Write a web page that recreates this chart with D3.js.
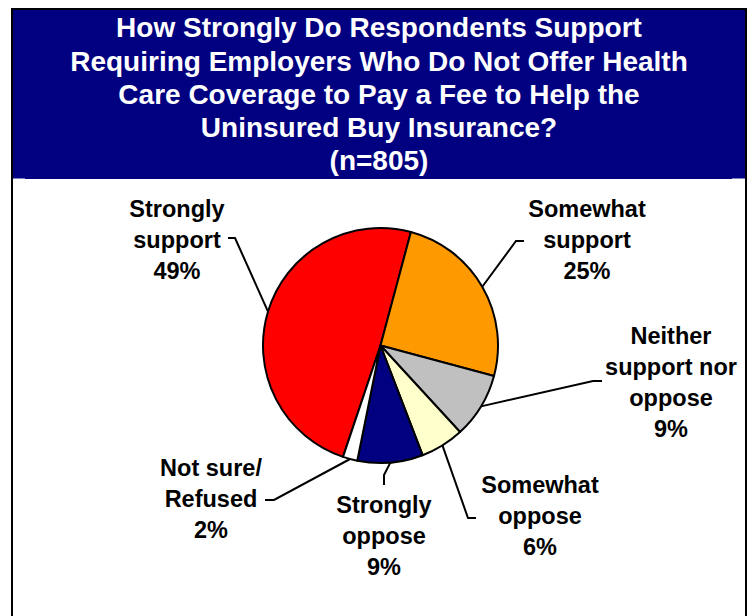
<!DOCTYPE html>
<html><head><meta charset="utf-8">
<script src="https://cdn.jsdelivr.net/npm/d3@7"></script>
<style>
html,body{margin:0;padding:0;background:#fff;}
svg{display:block;}
text{font-family:"Liberation Sans",Arial,sans-serif;font-weight:bold;}
</style></head>
<body>
<svg id="c" width="754" height="616"></svg>
<script>
const titleLines = ["How Strongly Do Respondents Support","Requiring Employers Who Do Not Offer Health","Care Coverage to Pay a Fee to Help the","Uninsured Buy Insurance?","(n=805)"];
const categories = ["Strongly support","Somewhat support","Neither support nor oppose","Somewhat oppose","Strongly oppose","Not sure/ Refused"];
const values = [49,25,9,6,9,2];
const labelLines = [["Strongly","support","49%"],["Somewhat","support","25%"],["Neither","support nor","oppose","9%"],["Somewhat","oppose","6%"],["Strongly","oppose","9%"],["Not sure/","Refused","2%"]];
const colors = ["#FF0000","#FF9900","#C0C0C0","#FFFFCC","#000080","#FFFFFF"];

// layout (label anchor centre x, first baseline y, leader elbow points)
const layout = [
  {x:177, y:217, pts:[[235,238],[228,238]]},
  {x:587, y:217, pts:[[516,241],[524,241]]},
  {x:671, y:344, pts:[[593,381],[602,381]]},
  {x:540, y:493, pts:[[468,518],[476,518]]},
  {x:384, y:513, pts:[[384,475],[384,485]]},
  {x:211, y:476, pts:[[274,500],[265,500]]}
];

const svg = d3.select("#c");
// frame + title band
svg.append("rect").attr("x",13).attr("y",10).attr("width",732).attr("height",169).attr("fill","#000080");
svg.append("line").attr("x1",13).attr("x2",25).attr("y1",178.5).attr("y2",178.5).attr("stroke","#8080c0").attr("stroke-width",1);
svg.append("line").attr("x1",732).attr("x2",745).attr("y1",178.5).attr("y2",178.5).attr("stroke","#8080c0").attr("stroke-width",1);
svg.append("rect").attr("x",12).attr("y",9).attr("width",734).attr("height",640).attr("fill","none").attr("stroke","#000").attr("stroke-width",2);

const tBase = [37,71,104,137,170];
svg.append("g").selectAll("text").data(titleLines).join("text")
  .attr("x",379).attr("y",(d,i)=>tBase[i]).attr("text-anchor","middle")
  .attr("fill","#fff").attr("font-size",28).text(d=>d);

const cx = 380.5, cy = 345.5, R = 117.5;
const startDeg = 198.6;
const pie = d3.pie().sort(null).value(d=>d)
  .startAngle(startDeg*Math.PI/180).endAngle(startDeg*Math.PI/180 + 2*Math.PI);
const arcs = pie(values);
const arc = d3.arc().innerRadius(0).outerRadius(R);
const edge = d3.arc().innerRadius(R).outerRadius(R);
const g = svg.append("g").attr("transform",`translate(${cx},${cy})`);
g.selectAll("path").data(arcs).join("path")
  .attr("d",arc).attr("fill",(d,i)=>colors[i])
  .attr("stroke","#000").attr("stroke-width",2).attr("stroke-linejoin","round");

// leader lines
const line = d3.line();
svg.append("g").selectAll("path").data(arcs).join("path")
  .attr("d",(d,i)=>{
    const c = edge.centroid(d);
    return line([[cx+c[0],cy+c[1]], ...layout[i].pts]);
  })
  .attr("fill","none").attr("stroke","#000").attr("stroke-width",2);

// labels
const lg = svg.append("g");
labelLines.forEach((lines,i)=>{
  const t = lg.append("text").attr("text-anchor","middle").attr("font-size",23.5).attr("fill","#000");
  lines.forEach((s,j)=>{
    t.append("tspan").attr("x",layout[i].x).attr("y",layout[i].y + j*31).text(s);
  });
});
</script>
</body></html>
